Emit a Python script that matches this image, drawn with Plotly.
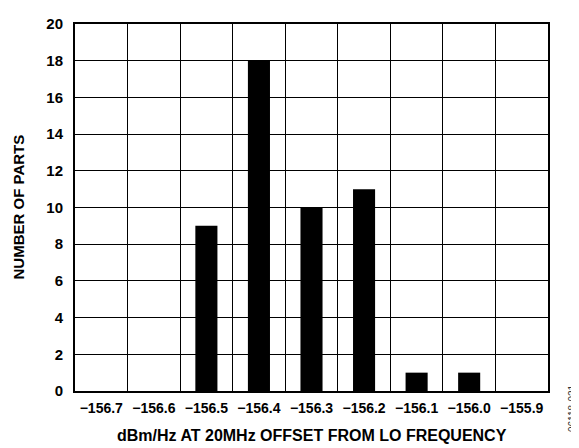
import plotly.graph_objects as go

categories = ["−156.7", "−156.6", "−156.5", "−156.4", "−156.3", "−156.2", "−156.1", "−156.0", "−155.9"]
counts = [0, 0, 9, 18, 10, 11, 1, 1, 0]
y_ticks = list(range(0, 21, 2))

FONT = "Liberation Sans, Arial, Helvetica, sans-serif"

fig = go.Figure()
fig.add_trace(go.Bar(
    x=categories, y=counts, width=0.42,
    marker=dict(color="black", line=dict(width=0)),
))

# page body has an 8px margin: figure is sized/offset to compensate
fig.update_layout(
    width=571, height=440,
    margin=dict(l=67, r=31, t=7, b=57, pad=0),
    paper_bgcolor="white", plot_bgcolor="white",
    showlegend=False,
    font=dict(family=FONT, size=15, color="black"),
)
fig.update_xaxes(
    type="category", categoryorder="array", categoryarray=categories,
    tickson="boundaries", showgrid=True, gridcolor="black", gridwidth=1,
    showline=True, linecolor="black", linewidth=2, mirror=True,
    ticks="", tickangle=0,
    tickfont=dict(family=FONT, size=14, color="black", weight="bold"),
    ticklabelstandoff=3, zeroline=False,
)
fig.update_yaxes(
    range=[0, 20], tickvals=y_ticks, showgrid=True, gridcolor="black", gridwidth=1,
    showline=True, linecolor="black", linewidth=2, mirror=True,
    ticks="", ticklabeloverflow="allow",
    tickfont=dict(family=FONT, size=15, color="black", weight="bold"),
    ticklabelstandoff=7, zeroline=False,
)

fig.add_annotation(
    text="NUMBER OF PARTS", xref="paper", yref="paper", x=0, y=0.5,
    xanchor="center", yanchor="middle", xshift=-57, textangle=-90, showarrow=False,
    font=dict(family=FONT, size=15, color="black", weight="bold"),
)
fig.add_annotation(
    text="dBm/Hz AT 20MHz OFFSET FROM LO FREQUENCY", xref="paper", yref="paper",
    x=0.5, y=0, xanchor="center", yanchor="middle", yshift=-44, showarrow=False,
    font=dict(family=FONT, size=16, color="black", weight="bold"),
)
fig.add_annotation(
    text="06118-021", xref="paper", yref="paper", x=1, y=0,
    xanchor="center", yanchor="middle", xshift=24, yshift=-17, textangle=-90,
    showarrow=False, font=dict(family=FONT, size=10, color="#333333"),
)

fig.write_html("out.html")
